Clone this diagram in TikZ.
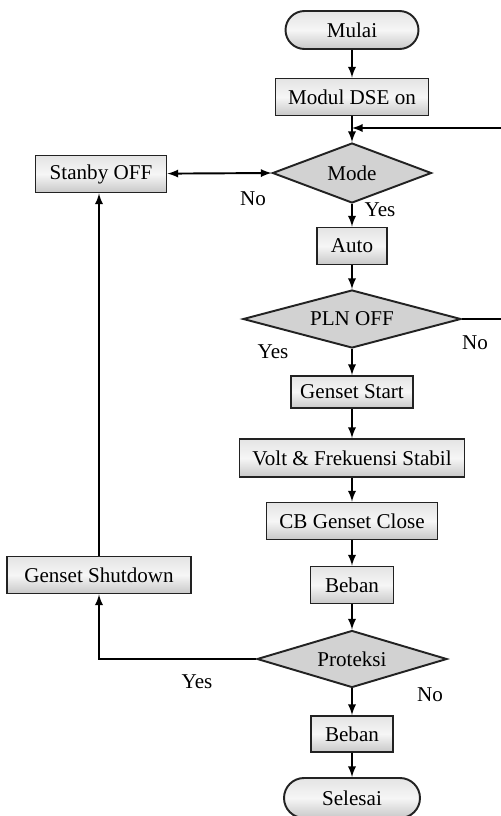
\documentclass[tikz,border=0pt]{standalone}
\usepackage{fontspec}
\setmainfont{Liberation Serif}
\usetikzlibrary{shapes.misc, shapes.geometric}

\begin{document}
\begin{tikzpicture}[x=0.02cm, y=-0.02cm, >=latex, font=\fontsize{12}{14}\selectfont,
    box/.style={draw=borderColour, line width=1.1pt, top color=topColour, bottom color=bottomColour,
        middle color=midColour, minimum height=0.74cm, inner sep=0pt},
    terminal/.style={box, rounded rectangle, minimum height=0.76cm},
    decision/.style={diamond, draw=borderColour, line width=1.1pt, fill=diamondColour, inner sep=0pt},
    flow/.style={->, line width=1.1pt}]
    % Define colours
    \definecolor{borderColour}{HTML}{222222}
    \definecolor{topColour}{HTML}{E4E4E4}
    \definecolor{midColour}{HTML}{F6F6F6}
    \definecolor{bottomColour}{HTML}{C8C8C8}
    \definecolor{diamondColour}{HTML}{D2D2D2}

    % Define main column
    \def\mainX{352}

    % Fix picture size
    \useasboundingbox (0,0) rectangle (501,816);

    % Draw main column
    \node[terminal, minimum width=2.66cm] (mulai) at (\mainX,30) {Mulai};
    \node[box, minimum width=3.06cm] (dse) at (\mainX,97) {Modul DSE on};
    \node[decision, aspect=2.65, minimum width=3.18cm, minimum height=1.2cm] (mode) at (\mainX,173) {Mode};
    \node[box, minimum width=1.4cm] (auto) at (\mainX,246) {Auto};
    \node[decision, aspect=3.76, minimum width=4.36cm, minimum height=1.16cm] (pln) at (\mainX,319) {PLN OFF};
    \node[box, minimum width=2.44cm, minimum height=0.64cm] (start) at (\mainX,392) {Genset Start};
    \node[box, minimum width=4.5cm, minimum height=0.76cm] (volt) at (\mainX,458) {Volt \& Frekuensi Stabil};
    \node[box, minimum width=3.42cm] (cb) at (\mainX,521) {CB Genset Close};
    \node[box, minimum width=1.66cm] (beban) at (\mainX,585) {Beban};
    \node[decision, aspect=3.33, minimum width=3.8cm, minimum height=1.14cm] (proteksi) at (\mainX,659) {Proteksi};
    \node[box, minimum width=1.64cm, minimum height=0.72cm] (bebanEnd) at (\mainX,734) {Beban};
    \node[terminal, minimum width=2.72cm, minimum height=0.8cm] (selesai) at (\mainX,798) {Selesai};

    % Draw left column
    \node[box, minimum width=2.62cm] (stanby) at (101,174) {Stanby OFF};
    \node[box, minimum width=3.68cm] (shutdown) at (99,575) {Genset Shutdown};

    % Draw main flow
    \draw[flow] (mulai) -- (dse);
    \draw[flow] (dse) -- (mode);
    \draw[flow] (mode) -- (auto);
    \draw[flow] (auto) -- (pln);
    \draw[flow] (pln) -- (start);
    \draw[flow] (start) -- (volt);
    \draw[flow] (volt) -- (cb);
    \draw[flow] (cb) -- (beban);
    \draw[flow] (beban) -- (proteksi);
    \draw[flow] (proteksi) -- (bebanEnd);
    \draw[flow] (bebanEnd) -- (selesai);

    % Draw branches
    \coordinate (loopBack) at (\mainX,128);
    \draw[flow] (pln.east) -- (515,319) |- (loopBack);
    \draw[<->, line width=1.1pt] (stanby) -- (mode.west);
    \draw[flow] (proteksi.west) -| (shutdown.south);
    \draw[flow] (shutdown.north) -- (shutdown.north |- stanby.south);

    % Label branches
    \node at (253,199) {No};
    \node at (380,210) {Yes};
    \node at (273,352) {Yes};
    \node at (475,343) {No};
    \node at (197,682) {Yes};
    \node at (430,695) {No};
\end{tikzpicture}
\end{document}
